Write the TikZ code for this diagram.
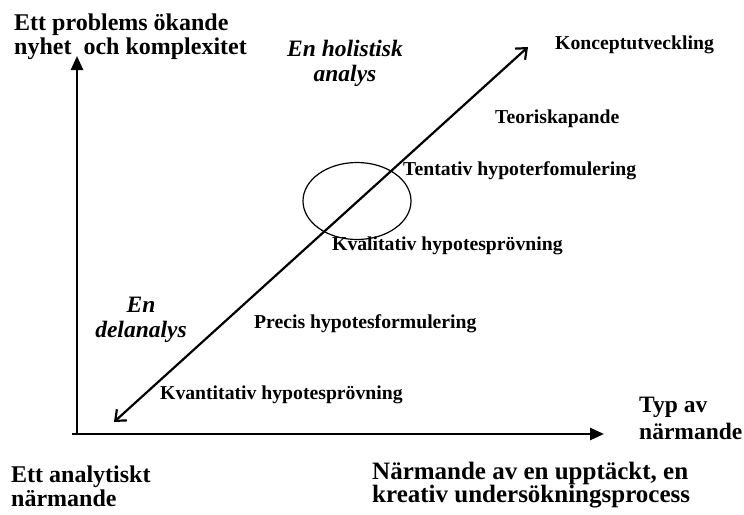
\documentclass[tikz,border=0pt]{standalone}
\usepackage{fontspec}
\setmainfont{Liberation Serif}
\usetikzlibrary{arrows.meta,shapes.geometric}
\begin{document}
\begin{tikzpicture}[x=1pt,y=-1pt,
    lbl/.style={inner sep=0, anchor=base west, font=\fontsize{19.7}{24}\selectfont\bfseries},
    axlbl/.style={inner sep=0, anchor=north west, align=left, font=\fontsize{24}{24}\selectfont\bfseries},
    itlbl/.style={inner sep=0, anchor=north, align=center, font=\fontsize{23.5}{25}\selectfont\bfseries\itshape},
    axis/.style={line width=2.6pt, -{Triangle[length=14pt,width=12pt]}},
    diag/.style={line width=2.2pt, {Straight Barb[length=9pt,width=15pt]}-{Straight Barb[length=9pt,width=15pt]}}]
  \useasboundingbox (0,0) rectangle (744,514);

  % axes
  \coordinate (ybot) at (77,434);
  \coordinate (ytop) at (77,56);
  \coordinate (xleft) at (72,434);
  \coordinate (xright) at (604,434);
  \draw[axis] (ybot) -- (ytop);
  \draw[axis] (xleft) -- (xright);

  % diagonal and circle
  \coordinate (lo) at (114,422);
  \coordinate (hi) at (528,47);
  \draw[diag] (lo) -- (hi);
  \node[ellipse, draw, line width=1.2pt, minimum width=108, minimum height=77, inner sep=0] (focus) at (357,201) {};

  % axis labels
  \node[axlbl] (ylabel) at (14,14) {Ett problems ökande\\nyhet~~och komplexitet};
  \node[axlbl, font=\fontsize{23.5}{27}\selectfont\bfseries] (xlabel) at (639,397) {Typ av\\närmande};
  \node[axlbl] (analytic) at (11,466) {Ett analytiskt\\närmande};
  \node[axlbl, font=\fontsize{25}{23}\selectfont\bfseries] (creative) at (372,462) {Närmande av en upptäckt, en\\kreativ undersökningsprocess};

  \node[itlbl] (holistic) at (345,40) {En holistisk\\analys};
  \node[itlbl] (partial) at (141,297) {En\\delanalys};

  % steps along the diagonal
  \node[lbl] (concept) at (555,49) {Konceptutveckling};
  \node[lbl] (theory) at (495,123) {Teoriskapande};
  \node[lbl] (tentative) at (403,175) {Tentativ hypoterfomulering};
  \node[lbl] (qualitative) at (332,250) {Kvalitativ hypotesprövning};
  \node[lbl] (precise) at (254,328) {Precis hypotesformulering};
  \node[lbl] (quantitative) at (160,399) {Kvantitativ hypotesprövning};
\end{tikzpicture}
\end{document}
